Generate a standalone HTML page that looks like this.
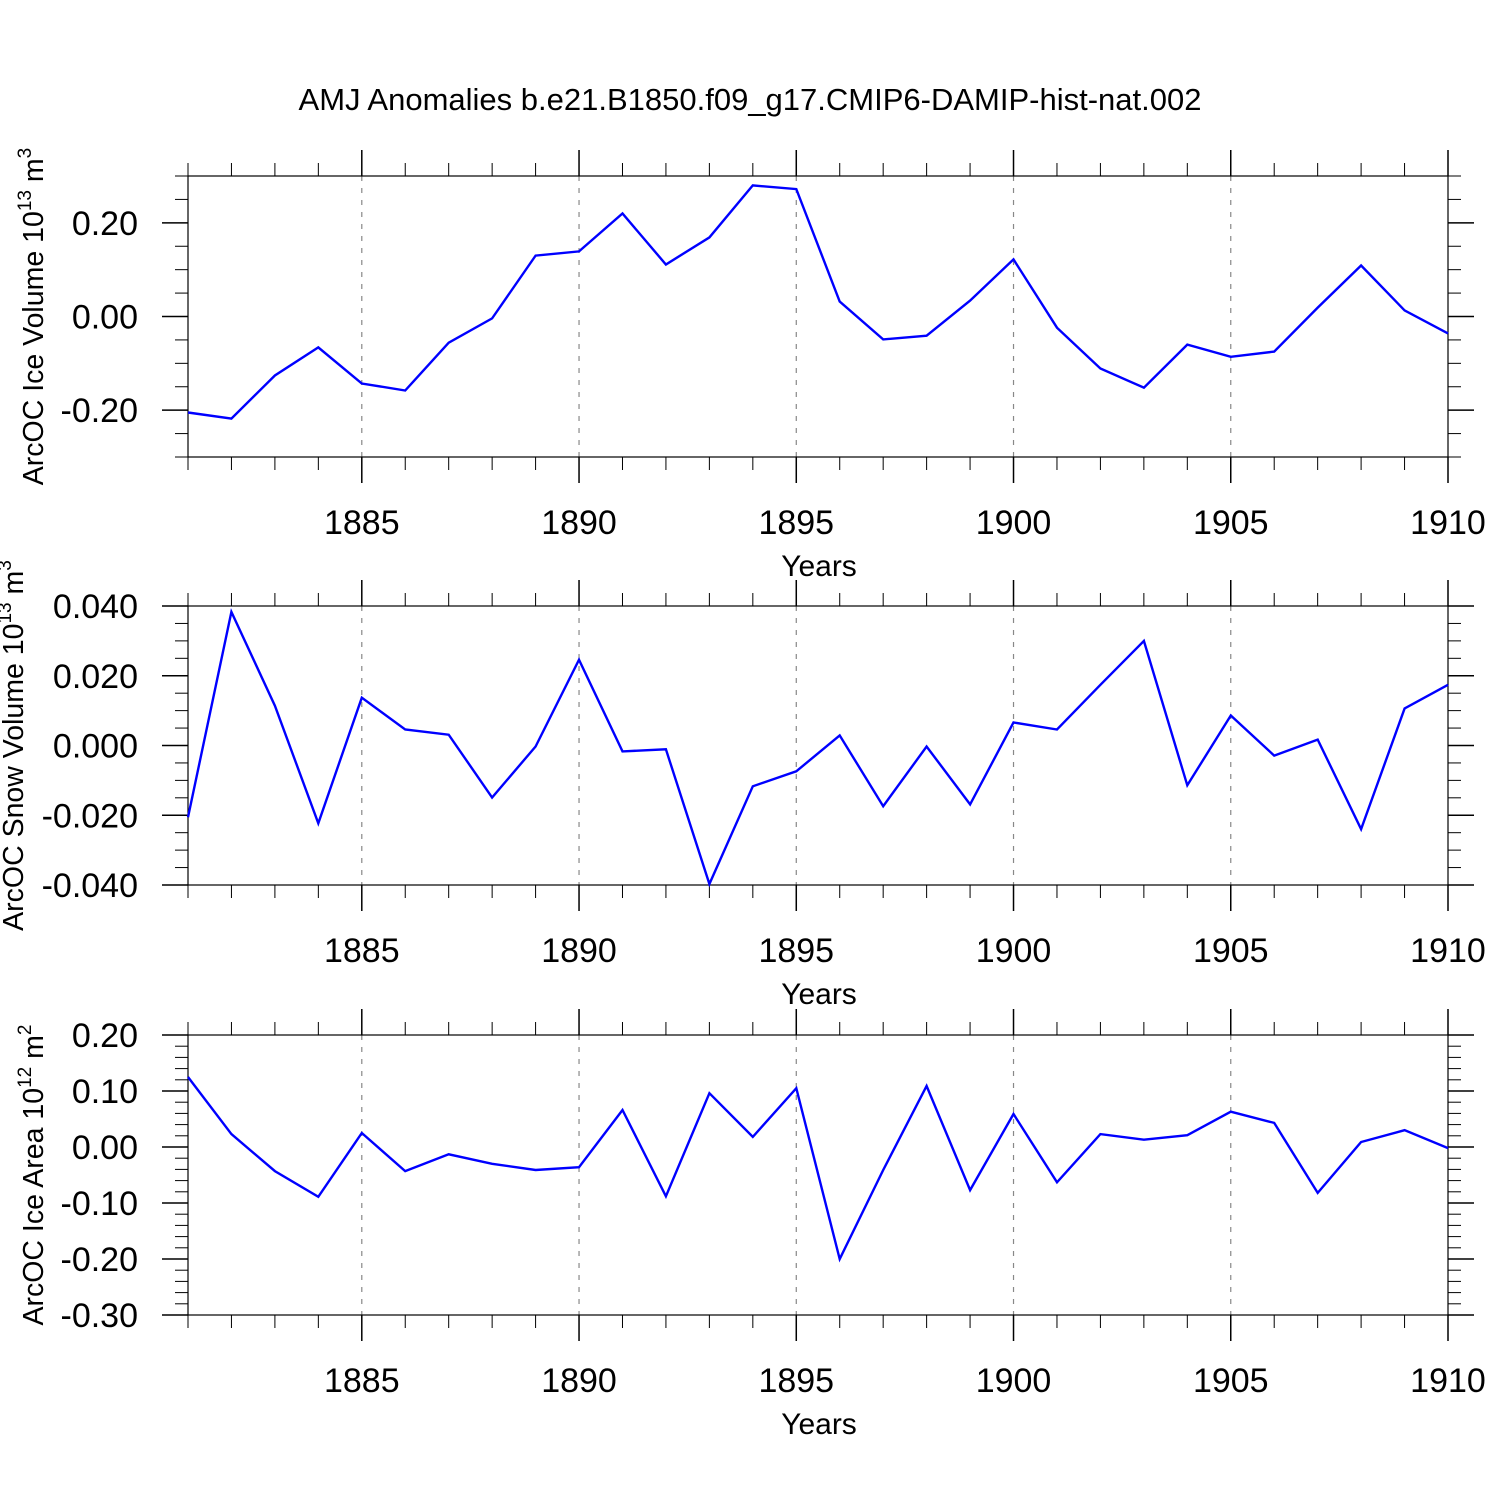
<!DOCTYPE html>
<html><head><meta charset="utf-8"><style>
body{margin:0;background:#fff}
svg text{font-family:"Liberation Sans",Helvetica,Arial,sans-serif;fill:#000}
</style></head><body>
<svg id="chart" width="1500" height="1500" viewBox="0 0 1500 1500" xmlns="http://www.w3.org/2000/svg">
<text x="750" y="110" font-size="31" text-anchor="middle">AMJ Anomalies b.e21.B1850.f09_g17.CMIP6-DAMIP-hist-nat.002</text>
</svg>
<script>
const years = [1881,1882,1883,1884,1885,1886,1887,1888,1889,1890,1891,1892,1893,1894,1895,1896,1897,1898,1899,1900,1901,1902,1903,1904,1905,1906,1907,1908,1909,1910];
const iceVolume = [-0.205,-0.218,-0.126,-0.066,-0.143,-0.158,-0.056,-0.004,0.130,0.139,0.220,0.111,0.169,0.280,0.272,0.032,-0.049,-0.041,0.034,0.122,-0.024,-0.111,-0.152,-0.060,-0.086,-0.075,0.019,0.109,0.013,-0.036];
const snowVolume = [-0.0206,0.0383,0.0114,-0.0223,0.0137,0.0046,0.0031,-0.0149,-0.0003,0.0246,-0.0017,-0.0011,-0.0397,-0.0117,-0.0074,0.0029,-0.0174,-0.0003,-0.0169,0.0066,0.0046,0.0174,0.0300,-0.0114,0.0086,-0.0029,0.0017,-0.0240,0.0106,0.0174];
const iceArea = [0.125,0.023,-0.043,-0.089,0.025,-0.043,-0.013,-0.030,-0.041,-0.036,0.066,-0.088,0.096,0.018,0.105,-0.200,-0.041,0.109,-0.077,0.059,-0.063,0.023,0.013,0.021,0.063,0.043,-0.082,0.009,0.030,-0.002];
const xTickLabels = [1885,1890,1895,1900,1905,1910];
const iceVolTicks = [-0.20,0.00,0.20];
const snowTicks = [-0.040,-0.020,0.000,0.020,0.040];
const areaTicks = [-0.30,-0.20,-0.10,0.00,0.10,0.20];

const svg = document.getElementById('chart');
const NS = 'http://www.w3.org/2000/svg';
function mk(tag, attrs, parent){const e=document.createElementNS(NS,tag);for(const k in attrs)e.setAttribute(k,attrs[k]);(parent||svg).appendChild(e);return e;}
const X0=188, X1=1448;
function xs(y){return X0+(y-1881)*(X1-X0)/29;}

function panel(cfg){
  const g=mk('g',{});
  
  
  const ys=v=>cfg.bot-(v-cfg.min)*(cfg.bot-cfg.top)/(cfg.max-cfg.min);
  xTickLabels.forEach(t=>{ if(t<1910){const l=mk('line',{x1:xs(t),x2:xs(t),y1:cfg.top,y2:cfg.bot,stroke:'#888','stroke-width':1.2,'stroke-dasharray':'5,7'},g);
    
    }});
  for(let y=1881;y<=1910;y++){const x=xs(y);const maj=(y%5===0);const len=maj?26:13;
    mk('line',{x1:x,x2:x,y1:cfg.top-len,y2:cfg.top,stroke:'#000','stroke-width':maj?1.5:1},g);
    mk('line',{x1:x,x2:x,y1:cfg.bot,y2:cfg.bot+len,stroke:'#000','stroke-width':maj?1.5:1},g);}
  const nMin=Math.round((cfg.max-cfg.min)/cfg.minor);
  for(let i=0;i<=nMin;i++){const v=cfg.min+i*cfg.minor;const y=ys(v);
    const maj=cfg.ticks.some(t=>Math.abs(t-v)<cfg.minor/10);const len=maj?26:13;
    mk('line',{x1:X0-len,x2:X0,y1:y,y2:y,stroke:'#000','stroke-width':maj?1.5:1},g);
    mk('line',{x1:X1,x2:X1+len,y1:y,y2:y,stroke:'#000','stroke-width':maj?1.5:1},g);}
  cfg.ticks.forEach(t=>{const tx=mk('text',{x:138,y:ys(t)+12,'font-size':34,'text-anchor':'end'},g);tx.textContent=t.toFixed(cfg.dec);
    
    });
  xTickLabels.forEach(t=>{const tx=mk('text',{x:xs(t),y:cfg.bot+77,'font-size':34,'text-anchor':'middle'},g);tx.textContent=t;
    
    });
  const r=mk('rect',{x:X0,y:cfg.top,width:X1-X0,height:cfg.bot-cfg.top,fill:'none',stroke:'#000','stroke-width':1.2},g);
  
  
  const pts=years.map((yr,i)=>xs(yr).toFixed(1)+','+ys(cfg.data[i]).toFixed(1)).join(' ');
  const pl=mk('polyline',{points:pts,fill:'none',stroke:'#0000ff','stroke-width':2.4,'stroke-linejoin':'miter'},g);
  
  
  const xt=mk('text',{x:819,y:cfg.bot+119,'font-size':30,'text-anchor':'middle'},g);xt.textContent='Years';
  
  
  const cy=(cfg.top+cfg.bot)/2;
  const yt=mk('text',{x:0,y:0,'font-size':28.5,'text-anchor':'middle',transform:`translate(${cfg.tx},${cy}) rotate(-90)`},g);
  
  
  yt.appendChild(document.createTextNode(cfg.label+' 10'));
  const s1=mk('tspan',{dy:-12,'font-size':19},yt);s1.textContent=cfg.exp;
  const s2=mk('tspan',{dy:12},yt);s2.textContent=' m';
  const s3=mk('tspan',{dy:-12,'font-size':19},yt);s3.textContent=cfg.unitExp;
}
panel({name:'ice-volume-panel',top:176,bot:457,min:-0.3,max:0.3,minor:0.05,ticks:iceVolTicks,dec:2,data:iceVolume,label:'ArcOC Ice Volume',exp:'13',unitExp:'3',tx:43});
panel({name:'snow-volume-panel',top:606,bot:885,min:-0.04,max:0.04,minor:0.005,ticks:snowTicks,dec:3,data:snowVolume,label:'ArcOC Snow Volume',exp:'13',unitExp:'3',tx:23});
panel({name:'ice-area-panel',top:1035,bot:1315,min:-0.3,max:0.2,minor:0.02,ticks:areaTicks,dec:2,data:iceArea,label:'ArcOC Ice Area',exp:'12',unitExp:'2',tx:43});
</script>
</body></html>
